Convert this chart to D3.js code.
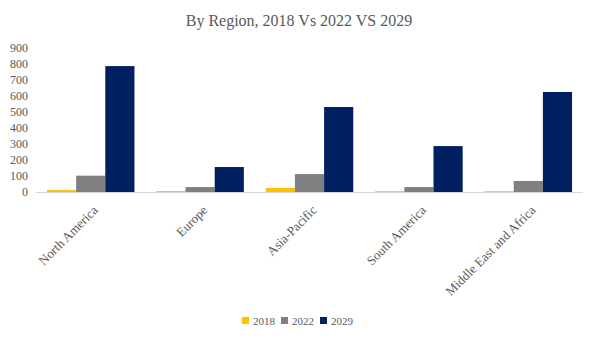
<!DOCTYPE html>
<html>
<head>
<meta charset="utf-8">
<script src="https://cdn.jsdelivr.net/npm/d3@7"></script>
<style>
  body { margin: 0; background: #fff; }
  text { font-family: "Liberation Serif", "DejaVu Serif", serif; fill: #595959; }
</style>
</head>
<body>
<div id="chart"></div>
<script>
var regions = ["North America", "Europe", "Asia-Pacific", "South America", "Middle East and Africa"];
var years = ["2018", "2022", "2029"];
var values2018 = [12, 6, 25, 5, 5];
var values2022 = [102, 31, 112, 31, 69];
var values2029 = [787, 156, 531, 287, 625];
var yTicks = [0, 100, 200, 300, 400, 500, 600, 700, 800, 900];
var colors = ["#ffc000", "#808080", "#002060"];

var seriesValues = [values2018, values2022, values2029];

var W = 598, H = 342;
var margin = {top: 48, right: 15, bottom: 150, left: 36};
var width = W - margin.left - margin.right,
    height = H - margin.top - margin.bottom;

var svg = d3.select("#chart")
  .append("svg")
    .attr("width", W)
    .attr("height", H);

svg.append("text")
  .attr("x", W / 2)
  .attr("y", 26)
  .attr("text-anchor", "middle")
  .style("font-size", "16px")
  .text("By Region, 2018 Vs 2022 VS 2029");

var g = svg.append("g")
  .attr("transform", "translate(" + margin.left + "," + margin.top + ")");

var x0 = d3.scaleBand()
  .domain(regions)
  .range([0, width])
  .paddingInner(0.2)
  .paddingOuter(0.1);

var x1 = d3.scaleBand()
  .domain(years)
  .range([0, x0.bandwidth()]);

var y = d3.scaleLinear()
  .domain([0, 900])
  .range([height, 0]);

// y tick labels, no axis line
g.selectAll(".ytick")
  .data(yTicks)
  .enter()
  .append("text")
    .attr("class", "ytick")
    .attr("x", -8)
    .attr("y", d => y(d))
    .attr("dy", "0.35em")
    .attr("text-anchor", "end")
    .style("font-size", "12px")
    .text(d => d);

var groups = g.selectAll(".region")
  .data(regions)
  .enter()
  .append("g")
    .attr("class", "region")
    .attr("transform", d => "translate(" + x0(d) + ",0)");

groups.selectAll("rect")
  .data((d, i) => years.map((yr, j) => ({ year: yr, value: seriesValues[j][i], color: colors[j] })))
  .enter()
  .append("rect")
    .attr("x", d => x1(d.year))
    .attr("y", d => y(d.value))
    .attr("width", x1.bandwidth())
    .attr("height", d => height - y(d.value))
    .attr("fill", d => d.color);

// baseline
g.append("line")
  .attr("x1", 0)
  .attr("x2", width)
  .attr("y1", height + 0.5)
  .attr("y2", height + 0.5)
  .attr("stroke", "#d9d9d9")
  .attr("stroke-width", 1);

// rotated category labels
g.selectAll(".xlabel")
  .data(regions)
  .enter()
  .append("text")
    .attr("class", "xlabel")
    .attr("text-anchor", "end")
    .style("font-size", "13px")
    .attr("transform", d => "translate(" + (x0(d) + x0.bandwidth() / 2 + 8) + "," + (height + 19) + ") rotate(-45)")
    .text(d => d);

// legend
var legend = svg.append("g")
  .attr("transform", "translate(242,317)");
var lx = 0;
years.forEach(function(yr, j) {
  legend.append("rect")
    .attr("x", lx)
    .attr("y", 0)
    .attr("width", 7)
    .attr("height", 7)
    .attr("fill", colors[j]);
  legend.append("text")
    .attr("x", lx + 11)
    .attr("y", 7.5)
    .style("font-size", "11px")
    .text(yr);
  lx += 39;
});
</script>
</body>
</html>
